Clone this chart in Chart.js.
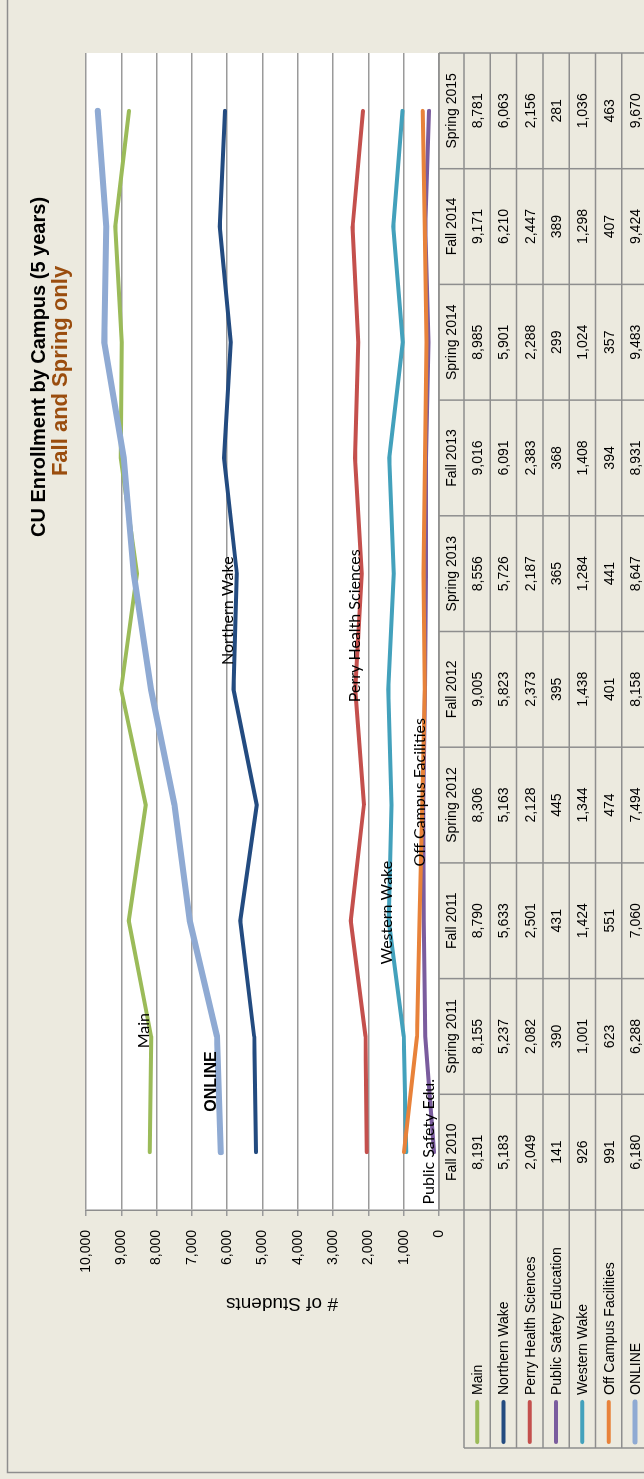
<!DOCTYPE html>
<html lang="en">

<head>
    <meta charset="UTF-8">
    <title>CU Enrollment by Campus</title>
    <script src="https://cdn.jsdelivr.net/npm/chart.js"></script>
    <style>
        html,
        body {
            margin: 0;
            padding: 0;
            width: 644px;
            height: 1479px;
            overflow: hidden;
            background: #ECEADF;
        }

        /* the chart is drawn landscape and turned on its side */
        #wrap {
            position: absolute;
            left: 0;
            top: 0;
            width: 1479px;
            height: 644px;
            transform-origin: 0 0;
            transform: translateY(1479px) rotate(-90deg);
        }

        canvas {
            display: block;
        }
    </style>
</head>

<body>
    <div id="wrap"><canvas id="enrollChart" width="1479" height="644"></canvas></div>

    <script>
        const chartTitle = 'CU Enrollment by Campus (5 years)';
        const chartSubtitle = 'Fall and Spring only';
        const axisTitle = '# of Students';

        const terms = ['Fall 2010', 'Spring 2011', 'Fall 2011', 'Spring 2012', 'Fall 2012',
            'Spring 2013', 'Fall 2013', 'Spring 2014', 'Fall 2014', 'Spring 2015'];

        const campuses = ['Main', 'Northern Wake', 'Perry Health Sciences', 'Public Safety Education',
            'Western Wake', 'Off Campus Facilities', 'ONLINE'];

        const mainCampus = [8191, 8155, 8790, 8306, 9005, 8556, 9016, 8985, 9171, 8781];
        const northernWake = [5183, 5237, 5633, 5163, 5823, 5726, 6091, 5901, 6210, 6063];
        const perryHealth = [2049, 2082, 2501, 2128, 2373, 2187, 2383, 2288, 2447, 2156];
        const publicSafety = [141, 390, 431, 445, 395, 365, 368, 299, 389, 281];
        const westernWake = [926, 1001, 1424, 1344, 1438, 1284, 1408, 1024, 1298, 1036];
        const offCampus = [991, 623, 551, 474, 401, 441, 394, 357, 407, 463];
        const online = [6180, 6288, 7060, 7494, 8158, 8647, 8931, 9483, 9424, 9670];

        const seriesValues = [mainCampus, northernWake, perryHealth, publicSafety, westernWake, offCampus, online];
        const seriesColors = ['#9BBB59', '#234B80', '#C4504D', '#7A5C9E', '#43A1BC', '#E8823A', '#8FAAD3'];
        const seriesWidths = [4, 4, 4, 4, 4, 4, 6];

        const valueTicks = [0, 1000, 2000, 3000, 4000, 5000, 6000, 7000, 8000, 9000, 10000];

        // labels typed onto the lines in the original (term index, value)
        const lineLabelText = ['Main', 'ONLINE', 'Northern Wake', 'Perry Health Sciences', 'Western Wake',
            'Off Campus Facilities', 'Public Safety Edu.'];
        const lineLabelTerm = [1.05, 0.61, 4.68, 4.55, 2.07, 3.11, 0.09];
        const lineLabelValue = [8350, 6430, 5980, 2380, 1470, 540, 280];

        const fmt = v => v.toLocaleString('en-US');
        const arial = 'Arial, "Liberation Sans", sans-serif';

        const BG = '#ECEADF';
        const LINE = '#8E8E8E';

        function seg(ctx, x1, y1, x2, y2) {
            ctx.beginPath();
            ctx.moveTo(x1, y1);
            ctx.lineTo(x2, y2);
            ctx.stroke();
        }

        const sheetPlugin = {
            id: 'sheet',
            beforeDraw(chart) {
                const ctx = chart.ctx;
                const a = chart.chartArea;
                ctx.save();
                ctx.fillStyle = BG;
                ctx.fillRect(0, 0, chart.width, chart.height);
                ctx.strokeStyle = LINE;
                ctx.lineWidth = 1.5;
                ctx.strokeRect(6.5, 7.5, chart.width + 40, chart.height + 40);
                ctx.fillStyle = '#FFFFFF';
                ctx.fillRect(a.left, a.top, a.right - a.left, a.bottom - a.top);
                ctx.restore();
            },
            afterDraw(chart) {
                const ctx = chart.ctx;
                const a = chart.chartArea;
                const xs = chart.scales.x;
                const ys = chart.scales.y;
                const top = a.bottom;
                const headH = 25;
                const rowH = 26.3;
                const legLeft = 31;

                ctx.save();

                // table grid
                ctx.strokeStyle = LINE;
                ctx.lineWidth = 1.5;
                seg(ctx, a.left, top, a.right, top);
                for (let k = 0; k <= campuses.length; k++) {
                    const y = top + headH + k * rowH;
                    seg(ctx, legLeft, y, a.right, y);
                }
                const bounds = [a.left];
                for (let i = 1; i < terms.length; i++) {
                    bounds.push((xs.getPixelForValue(i - 1) + xs.getPixelForValue(i)) / 2);
                }
                bounds.push(a.right);
                bounds.forEach(b => seg(ctx, b, top, b, chart.height));
                seg(ctx, legLeft, top + headH, legLeft, chart.height);

                // header + values
                ctx.fillStyle = '#000';
                ctx.font = '14px ' + arial;
                ctx.textAlign = 'center';
                ctx.textBaseline = 'middle';
                terms.forEach((t, i) => ctx.fillText(t, xs.getPixelForValue(i), top + headH / 2 + 1));
                seriesValues.forEach((vals, s) => {
                    const y = top + headH + s * rowH + rowH / 2 + 1;
                    vals.forEach((v, i) => ctx.fillText(fmt(v), xs.getPixelForValue(i), y));
                });

                // legend keys
                ctx.textAlign = 'left';
                ctx.lineCap = 'round';
                campuses.forEach((name, s) => {
                    const y = top + headH + s * rowH + rowH / 2;
                    ctx.strokeStyle = seriesColors[s];
                    ctx.lineWidth = s === 6 ? 5 : 4;
                    seg(ctx, 37, y, 77, y);
                    ctx.fillStyle = '#000';
                    ctx.fillText(name, 84, y + 1);
                });

                // labels on the lines
                ctx.textAlign = 'center';
                lineLabelText.forEach((t, k) => {
                    ctx.font = t === 'ONLINE' ? 'bold 16px ' + arial : '16px Lato, "Noto Sans", sans-serif';
                    ctx.fillText(t, xs.getPixelForValue(lineLabelTerm[k]), ys.getPixelForValue(lineLabelValue[k]));
                });

                // value axis title, turned like the original
                ctx.save();
                ctx.translate(176, ys.getPixelForValue(4450));
                ctx.rotate(-Math.PI / 2);
                ctx.font = '19px ' + arial;
                ctx.fillText(axisTitle, 0, 0);
                ctx.restore();

                // titles
                ctx.font = 'bold 20px ' + arial;
                ctx.fillStyle = '#000';
                ctx.fillText(chartTitle, 1112, 39);
                ctx.font = 'bold 22px ' + arial;
                ctx.fillStyle = '#9A4D0E';
                ctx.fillText(chartSubtitle, 1108, 61);

                ctx.restore();
            }
        };

        const ctx = document.getElementById('enrollChart').getContext('2d');
        const enrollChart = new Chart(ctx, {
            type: 'line',
            data: {
                labels: terms,
                datasets: campuses.map((name, s) => ({
                    label: name,
                    data: seriesValues[s],
                    borderColor: seriesColors[s],
                    backgroundColor: seriesColors[s],
                    borderWidth: seriesWidths[s],
                    borderCapStyle: 'round',
                    borderJoinStyle: 'round',
                    pointRadius: 0,
                    tension: 0,
                    order: campuses.length - s
                }))
            },
            options: {
                responsive: false,
                animation: false,
                events: [],
                layout: {
                    padding: { top: 86, right: 53, bottom: 205, left: 0 }
                },
                plugins: {
                    legend: { display: false },
                    title: { display: false },
                    tooltip: { enabled: false }
                },
                scales: {
                    x: {
                        type: 'category',
                        display: false,
                        offset: true
                    },
                    y: {
                        min: valueTicks[0],
                        max: valueTicks[valueTicks.length - 1],
                        afterFit: scale => { scale.width = 269; },
                        afterBuildTicks: scale => { scale.ticks = valueTicks.map(v => ({ value: v })); },
                        grid: {
                            color: '#9A9A9A',
                            lineWidth: 1.5,
                            tickLength: 6
                        },
                        border: { color: LINE, width: 1.5 },
                        ticks: {
                            padding: 14,
                            color: '#000',
                            font: { family: arial, size: 14 },
                            callback: v => fmt(v)
                        }
                    }
                }
            },
            plugins: [sheetPlugin]
        });
    </script>

</body>

</html>
